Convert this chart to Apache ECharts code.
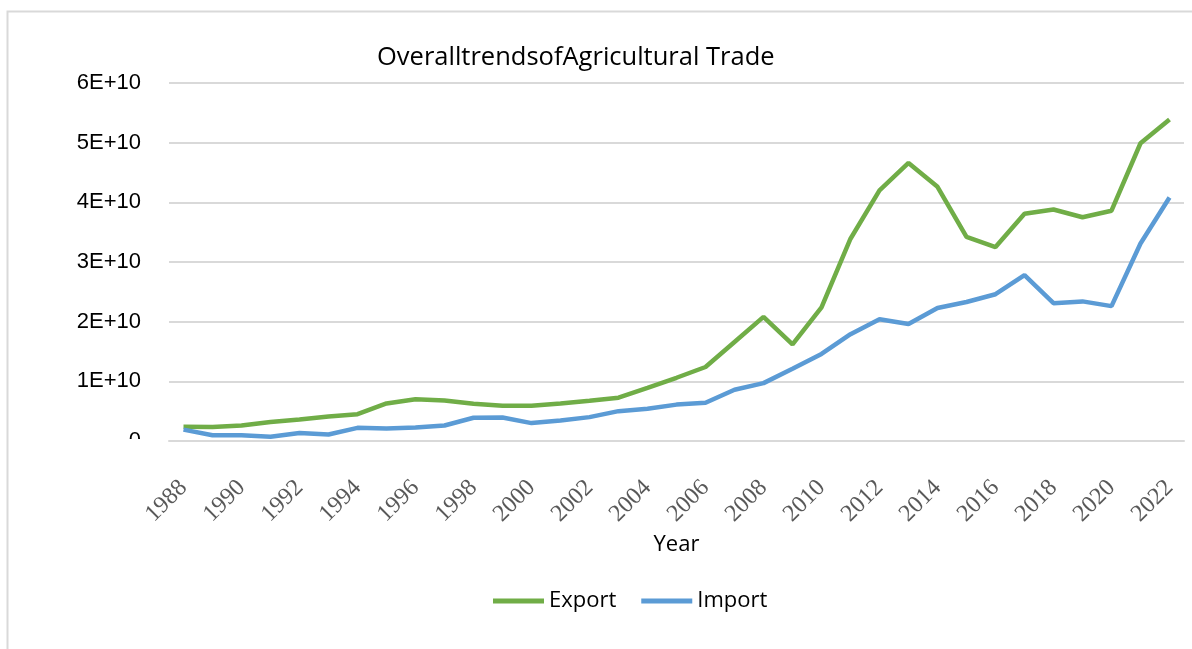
<!DOCTYPE html>
<html>
<head>
<meta charset="utf-8">
<script src="https://cdn.jsdelivr.net/npm/echarts@6/dist/echarts.min.js"></script>
<style>
  html, body { margin: 0; padding: 0; background: #fff; }
  #chart { width: 1192px; height: 649px; }
</style>
</head>
<body>
<div id="chart"></div>
<script>
// Agricultural trade totals by year (USD)
const years = [
  '1988','1989','1990','1991','1992','1993','1994','1995','1996','1997',
  '1998','1999','2000','2001','2002','2003','2004','2005','2006','2007',
  '2008','2009','2010','2011','2012','2013','2014','2015','2016','2017',
  '2018','2019','2020','2021','2022'
];
const exportValues = [
  2.4e9, 2.35e9, 2.6e9, 3.2e9, 3.6e9, 4.1e9, 4.5e9, 6.3e9, 7.0e9, 6.8e9,
  6.25e9, 5.9e9, 5.9e9, 6.3e9, 6.75e9, 7.25e9, 8.9e9, 10.6e9, 12.4e9, 16.6e9,
  20.8e9, 16.2e9, 22.4e9, 33.9e9, 42.0e9, 46.6e9, 42.6e9, 34.2e9, 32.5e9, 38.1e9,
  38.8e9, 37.5e9, 38.6e9, 49.9e9, 53.9e9
];
const importValues = [
  1.9e9, 0.95e9, 0.95e9, 0.7e9, 1.35e9, 1.1e9, 2.2e9, 2.1e9, 2.25e9, 2.6e9,
  3.9e9, 3.95e9, 3.0e9, 3.45e9, 4.0e9, 5.0e9, 5.4e9, 6.1e9, 6.4e9, 8.6e9,
  9.7e9, 12.1e9, 14.6e9, 17.9e9, 20.4e9, 19.6e9, 22.3e9, 23.3e9, 24.6e9, 27.8e9,
  23.1e9, 23.4e9, 22.6e9, 33.1e9, 40.8e9
];
const seriesNames = ['Export', 'Import'];
const yTickStep = 1e10;
const yMax = 6e10;

const sansFont = '"Liberation Sans", Arial, sans-serif';
const openFont = '"Open Sans", "Noto Sans", sans-serif';
const gridColor = '#d9d9d9';

const chart = echarts.init(document.getElementById('chart'), null, { renderer: 'canvas' });

chart.setOption({
  animation: false,
  backgroundColor: '#ffffff',
  title: {
    text: 'OveralltrendsofAgricultural Trade',
    left: 372,
    top: 40,
    textStyle: { fontFamily: openFont, fontSize: 25.5, fontWeight: 'normal', color: '#000' }
  },
  legend: {
    data: seriesNames,
    left: 488,
    top: 585,
    icon: 'rect',
    itemWidth: 51,
    itemHeight: 5,
    itemGap: 25,
    textStyle: { fontFamily: openFont, fontSize: 22, color: '#000' }
  },
  grid: { left: 169, right: 8, top: 83, bottom: 208 },
  xAxis: {
    type: 'category',
    data: years,
    boundaryGap: true,
    name: 'Year',
    nameLocation: 'middle',
    nameGap: 89,
    nameTextStyle: { fontFamily: openFont, fontSize: 22, color: '#000' },
    axisLine: { lineStyle: { color: gridColor, width: 2 } },
    axisTick: { show: false },
    axisLabel: {
      interval: 1,
      rotate: 45,
      margin: 43,
      fontFamily: '"Liberation Serif", "Times New Roman", serif',
      fontSize: 24,
      color: '#595959'
    }
  },
  yAxis: {
    type: 'value',
    min: 0,
    max: yMax,
    interval: yTickStep,
    axisLine: { show: false },
    axisTick: { show: false },
    splitLine: { lineStyle: { color: gridColor, width: 2 } },
    axisLabel: {
      margin: 28,
      fontFamily: sansFont,
      fontSize: 22,
      color: '#000',
      formatter: v => v === 0 ? '0' : (v / yTickStep) + 'E+10'
    }
  },
  series: [
    {
      name: seriesNames[0],
      type: 'line',
      data: exportValues,
      symbol: 'none',
      lineStyle: { width: 4.5, color: '#70ad47' },
      itemStyle: { color: '#70ad47' }
    },
    {
      name: seriesNames[1],
      type: 'line',
      data: importValues,
      symbol: 'none',
      lineStyle: { width: 4.5, color: '#5b9bd5' },
      itemStyle: { color: '#5b9bd5' }
    }
  ],
  graphic: [
    {
      // outer chart frame (left and top edges)
      type: 'rect',
      shape: { x: 7.5, y: 11.5, width: 1300, height: 800 },
      style: { fill: null, stroke: gridColor, lineWidth: 2 },
      silent: true,
      z: -1
    },
    {
      // the zero label sits mostly under the plot's lower edge
      type: 'rect',
      shape: { x: 125, y: 439, width: 40, height: 20 },
      style: { fill: '#ffffff' },
      silent: true,
      z: 100
    }
  ]
});
</script>
</body>
</html>
